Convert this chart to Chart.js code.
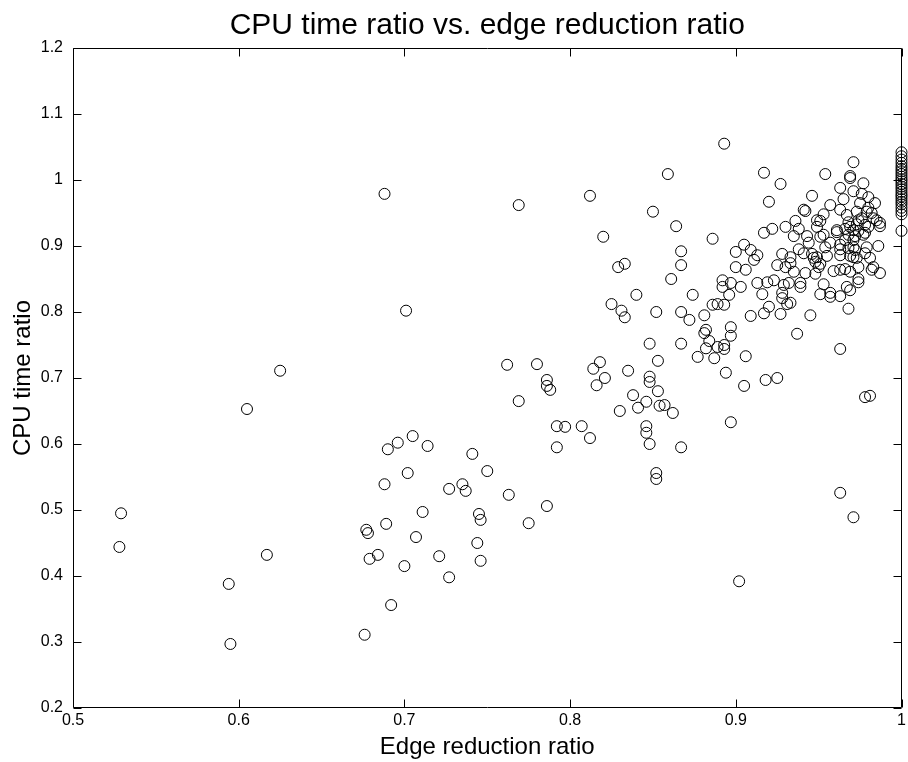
<!DOCTYPE html>
<html>
<head>
<meta charset="utf-8">
<script src="https://cdn.jsdelivr.net/npm/chart.js@4"></script>
<style>
html,body{margin:0;padding:0;background:#fff;}
#wrap{width:908px;height:762px;}
</style>
</head>
<body>
<div id="wrap"><canvas id="c" width="908" height="762"></canvas></div>
<script>
const chartTitle = 'CPU time ratio vs. edge reduction ratio';
const xAxisTitle = 'Edge reduction ratio';
const yAxisTitle = 'CPU time ratio';
const xTickValues = [0.5, 0.6, 0.7, 0.8, 0.9, 1.0];
const xTickLabels = ['0.5', '0.6', '0.7', '0.8', '0.9', '1'];
const yTickValues = [0.2, 0.3, 0.4, 0.5, 0.6, 0.7, 0.8, 0.9, 1.0, 1.1, 1.2];
const yTickLabels = ['0.2', '0.3', '0.4', '0.5', '0.6', '0.7', '0.8', '0.9', '1', '1.1', '1.2'];

const edgeRatio = [
0.529,0.528,0.594,0.595,0.605,0.617,0.625,0.688,0.701,0.676,
0.677,0.678,0.679,0.684,0.689,0.688,0.690,0.696,0.705,0.702,
0.692,0.700,0.707,0.711,0.714,0.721,0.727,0.727,0.735,0.737,
0.741,0.744,0.745,0.746,0.746,0.750,0.762,0.763,0.769,0.769,
0.775,0.780,0.786,0.786,0.788,0.786,0.792,0.792,0.797,0.807,
0.812,0.812,0.814,0.818,0.821,0.816,0.820,0.825,0.829,0.833,
0.831,0.833,0.830,0.835,0.838,0.840,0.841,0.846,0.846,0.846,
0.848,0.848,0.848,0.848,0.850,0.852,0.853,0.853,0.852,0.852,
0.854,0.857,0.859,0.861,0.862,0.864,0.867,0.867,0.867,0.867,
0.867,0.872,0.874,0.877,0.881,0.882,0.881,0.884,0.882,0.886,
0.889,0.893,0.889,0.893,0.893,0.887,0.897,0.897,0.906,0.894,
0.905,0.918,0.925,0.897,0.909,0.917,0.920,0.927,0.931,0.933,
0.937,0.945,0.968,0.963,0.978,0.981,0.963,0.971,0.902,0.893,
0.917,0.927,0.954,0.971,0.969,0.969,0.977,0.963,0.971,0.965,
0.976,0.980,0.975,0.984,0.920,0.946,0.957,0.941,0.942,0.963,
0.973,0.980,0.979,0.982,0.953,0.949,0.951,0.967,0.968,0.936,
0.974,0.976,0.983,0.985,0.987,0.987,0.973,0.978,0.980,0.961,
0.966,0.969,0.971,0.974,0.968,0.972,0.977,0.978,0.971,0.966,
0.949,0.951,0.953,0.957,0.963,0.971,0.979,0.986,0.922,0.917,
0.930,0.938,0.935,0.943,0.944,0.954,0.961,0.886,0.905,0.900,
0.909,0.913,0.911,0.900,0.906,0.928,0.925,0.933,0.938,0.941,
0.946,0.949,0.948,0.951,0.950,0.947,0.955,0.963,0.963,0.968,
0.972,0.971,0.969,0.973,0.978,0.981,0.930,0.933,0.935,0.942,
0.948,0.959,0.963,0.966,0.969,0.974,0.974,0.983,0.982,0.987,
0.892,0.897,0.903,0.913,0.919,0.923,0.932,0.929,0.939,0.939,
0.953,0.892,0.896,0.916,0.928,0.928,0.951,0.957,0.957,0.963,
0.967,0.969,0.974,
1.000,1.000,1.000,1.000,1.000,1.000,1.000,1.000,1.000,1.000,
1.000,1.000,1.000,1.000,1.000,1.000,1.000,1.000,1.000,1.000,
1.000,1.000,1.000,1.000
];

const cpuRatio = [
0.495,0.444,0.388,0.297,0.653,0.432,0.711,0.979,0.802,0.311,
0.470,0.465,0.426,0.432,0.479,0.539,0.592,0.602,0.612,0.556,
0.356,0.415,0.459,0.497,0.597,0.430,0.532,0.398,0.539,0.529,
0.585,0.450,0.494,0.485,0.423,0.559,0.720,0.523,0.665,0.962,
0.480,0.721,0.697,0.688,0.682,0.506,0.627,0.595,0.626,0.627,
0.609,0.976,0.714,0.724,0.700,0.689,0.914,0.812,0.868,0.873,
0.802,0.792,0.650,0.711,0.674,0.826,0.655,0.664,0.627,0.617,
0.600,0.752,0.702,0.694,0.952,0.800,0.726,0.680,0.556,0.547,
0.658,0.659,1.009,0.850,0.647,0.930,0.892,0.871,0.800,0.752,
0.595,0.788,0.826,0.732,0.795,0.773,0.768,0.756,0.745,0.811,
0.812,0.811,0.747,0.750,0.744,0.730,0.777,0.764,0.733,0.708,
0.688,0.697,0.700,0.633,0.794,0.798,0.808,0.797,0.812,0.814,
0.767,0.795,0.805,0.744,0.671,0.673,0.526,0.489,0.392,1.055,
1.011,0.994,1.009,1.027,1.006,1.003,0.995,0.988,0.983,0.971,
0.979,0.974,0.965,0.965,0.967,0.976,0.962,0.955,0.953,0.955,
0.952,0.958,0.952,0.950,0.948,0.939,0.938,0.947,0.936,0.938,
0.939,0.942,0.942,0.939,0.935,0.930,0.933,0.932,0.929,0.924,
0.926,0.929,0.924,0.923,0.917,0.915,0.917,0.920,0.909,0.909,
0.929,0.914,0.917,0.905,0.902,0.898,0.898,0.900,0.926,0.920,
0.929,0.926,0.915,0.915,0.905,0.898,0.921,0.911,0.902,0.891,
0.894,0.886,0.879,0.868,0.864,0.888,0.871,0.883,0.895,0.889,
0.888,0.883,0.876,0.873,0.868,0.882,0.885,0.895,0.886,0.897,
0.894,0.883,0.885,0.882,0.889,0.882,0.868,0.874,0.861,0.859,
0.858,0.862,0.864,0.865,0.861,0.868,0.850,0.868,0.864,0.859,
0.848,0.844,0.838,0.844,0.845,0.848,0.844,0.841,0.844,0.838,
0.842,0.838,0.826,0.827,0.829,0.821,0.827,0.829,0.823,0.824,
0.838,0.833,0.845,
1.042,1.036,1.031,1.026,1.021,1.017,1.013,1.009,1.005,1.001,
0.998,0.994,0.990,0.986,0.982,0.978,0.975,0.971,0.967,0.963,
0.958,0.953,0.948,0.923
];

const points = edgeRatio.map((x, i) => ({ x: x, y: cpuRatio[i] }));

const FONT = "'Liberation Sans', Arial, Helvetica, sans-serif";
Chart.defaults.font.family = FONT;
Chart.defaults.color = '#000';

// Box, inward tick marks and the plot-centred title (MATLAB style)
const boxTicks = {
  id: 'boxTicks',
  afterDraw(chart) {
    const ctx = chart.ctx;
    const a = chart.chartArea;
    const xs = chart.scales.x, ys = chart.scales.y;
    const L = Math.round(a.left) + 0.5, R = Math.round(a.right) - 0.5;
    const T = Math.round(a.top) + 0.5, B = Math.round(a.bottom) - 0.5;
    const len = 8;
    ctx.save();
    ctx.strokeStyle = '#000';
    ctx.lineWidth = 1;
    ctx.beginPath();
    ctx.rect(L, T, R - L, B - T);
    xs.ticks.forEach(t => {
      const px = Math.round(xs.getPixelForValue(t.value)) + 0.5;
      ctx.moveTo(px, B); ctx.lineTo(px, B - len);
      ctx.moveTo(px, T); ctx.lineTo(px, T + len);
    });
    ys.ticks.forEach(t => {
      const py = Math.round(ys.getPixelForValue(t.value)) + 0.5;
      ctx.moveTo(L, py); ctx.lineTo(L + len, py);
      ctx.moveTo(R, py); ctx.lineTo(R - len, py);
    });
    ctx.stroke();
    ctx.fillStyle = '#000';
    ctx.font = '30px ' + FONT;
    ctx.textAlign = 'center';
    ctx.textBaseline = 'middle';
    ctx.fillText(chartTitle, (a.left + a.right) / 2, a.top - 22);
    ctx.restore();
  }
};

new Chart(document.getElementById('c'), {
  type: 'scatter',
  data: {
    datasets: [{
      data: points,
      pointStyle: 'circle',
      pointRadius: 5.5,
      pointHoverRadius: 5.5,
      borderColor: '#000',
      borderWidth: 1,
      backgroundColor: 'rgba(0,0,0,0)',
      clip: false
    }]
  },
  options: {
    responsive: false,
    animation: false,
    events: [],
    layout: { padding: { left: 0, right: 3, top: 48, bottom: 0 } },
    plugins: {
      legend: { display: false },
      tooltip: { enabled: false },
      title: { display: false }
    },
    scales: {
      x: {
        type: 'linear',
        position: 'bottom',
        min: 0.5, max: 1.0,
        afterBuildTicks: s => { s.ticks = xTickValues.map(v => ({ value: v })); },
        afterFit: s => { s.height = 54; s.paddingLeft = 0; s.paddingRight = 0; },
        grid: { display: false, drawTicks: false },
        border: { display: false },
        ticks: {
          autoSkip: false, maxRotation: 0, minRotation: 0, padding: 3,
          color: '#000', font: { family: FONT, size: 16 },
          callback: (v, i) => xTickLabels[i]
        },
        title: {
          display: true, text: xAxisTitle, color: '#000',
          font: { family: FONT, size: 24 },
          padding: { top: 0, bottom: 0 }
        }
      },
      y: {
        type: 'linear',
        position: 'left',
        min: 0.2, max: 1.2,
        afterBuildTicks: s => { s.ticks = yTickValues.map(v => ({ value: v })); },
        afterFit: s => { s.width = 73; s.paddingTop = 0; s.paddingBottom = 0; },
        grid: { display: false, drawTicks: false },
        border: { display: false },
        ticks: {
          autoSkip: false, padding: 10,
          color: '#000', font: { family: FONT, size: 16 },
          callback: (v, i) => yTickLabels[i]
        },
        title: {
          display: true, text: yAxisTitle, color: '#000',
          font: { family: FONT, size: 24 },
          padding: { top: 9, bottom: 0 }
        }
      }
    }
  },
  plugins: [boxTicks]
});
</script>
</body>
</html>
